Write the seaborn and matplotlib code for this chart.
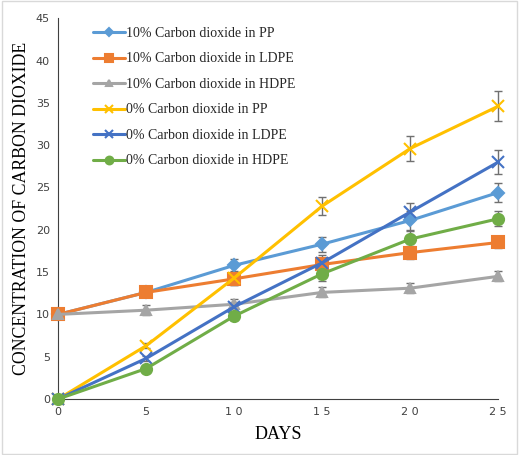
import matplotlib
matplotlib.use("Agg")
import matplotlib.pyplot as plt
import seaborn as sns
import pandas as pd

days = [0, 5, 10, 15, 20, 25]
series_names = [
    "10% Carbon dioxide in PP",
    "10% Carbon dioxide in LDPE",
    "10% Carbon dioxide in HDPE",
    "0% Carbon dioxide in PP",
    "0% Carbon dioxide in LDPE",
    "0% Carbon dioxide in HDPE",
]
pp10 = [10.0, 12.6, 15.8, 18.3, 21.1, 24.4]
ldpe10 = [10.0, 12.6, 14.2, 15.9, 17.3, 18.5]
hdpe10 = [10.0, 10.5, 11.2, 12.6, 13.1, 14.5]
pp0 = [0.0, 6.3, 14.3, 22.8, 29.6, 34.6]
ldpe0 = [0.0, 4.8, 10.9, 16.1, 22.1, 28.0]
hdpe0 = [0.0, 3.6, 9.8, 14.8, 18.9, 21.3]

err_pp10 = [0.0, 0.5, 0.8, 0.9, 1.1, 1.1]
err_ldpe10 = [0.0, 0.5, 0.7, 0.7, 0.8, 0.7]
err_hdpe10 = [0.0, 0.6, 0.6, 0.6, 0.6, 0.6]
err_pp0 = [0.0, 0.3, 0.8, 1.1, 1.5, 1.8]
err_ldpe0 = [0.0, 0.3, 0.6, 0.9, 1.1, 1.4]
err_hdpe0 = [0.0, 0.2, 0.5, 0.8, 1.0, 0.9]

values = [pp10, ldpe10, hdpe10, pp0, ldpe0, hdpe0]
errors = [err_pp10, err_ldpe10, err_hdpe10, err_pp0, err_ldpe0, err_hdpe0]
colors = ["#5B9BD5", "#ED7D31", "#A5A5A5", "#FFC000", "#4472C4", "#70AD47"]
markers = ["D", "s", "^", "x", "x", "o"]
msizes = [6, 8, 7, 8, 8, 8]

rows = []
for name, vals, errs in zip(series_names, values, errors):
    for d, v, e in zip(days, vals, errs):
        rows.append({"Days": d, "Value": v, "Err": e, "Series": name})
df = pd.DataFrame(rows)

sns.set_style("white")
fig = plt.figure(figsize=(5.19, 4.55), dpi=100)
ax = fig.add_axes([0.112, 0.123, 0.848, 0.837])

for name, col, mk, ms in zip(series_names, colors, markers, msizes):
    sub = df[df["Series"] == name]
    ax.errorbar(sub["Days"], sub["Value"], yerr=sub["Err"], fmt="none",
                ecolor="#707070", elinewidth=1, capsize=3, capthick=1, zorder=2,
                clip_on=False)
    sns.lineplot(data=sub, x="Days", y="Value", ax=ax, color=col, marker=mk,
                 markersize=ms, markeredgecolor=col, markeredgewidth=1.5,
                 linewidth=2.2, label=name, zorder=3, clip_on=False)

ax.set_xlim(0, 25)
ax.set_ylim(0, 45)
ax.set_xticks(days)
ax.set_xticklabels([" ".join(str(d)) for d in days])
ax.set_yticks(range(0, 46, 5))
ax.tick_params(axis="both", labelsize=8, length=0, colors="#404040", pad=6)
for s in ["top", "right"]:
    ax.spines[s].set_visible(False)
ax.spines["left"].set_color("#404040")
ax.spines["bottom"].set_color("#404040")

ax.set_xlabel("DAYS", fontfamily="Liberation Serif", fontsize=13, color="black", labelpad=6)
ax.set_ylabel("CONCENTRATION OF CARBON DIOXIDE", fontfamily="Liberation Serif",
              fontsize=12.8, color="black", labelpad=4)

leg = ax.legend(loc="upper left", bbox_to_anchor=(0.05, 1.01), frameon=False,
                prop={"family": "Liberation Serif", "size": 10},
                labelspacing=0.9, handlelength=2.3, handletextpad=0.1,
                markerscale=0.7)

fig.patches.append(plt.Rectangle((0.003, 0.003), 0.994, 0.994, transform=fig.transFigure,
                                 fill=False, edgecolor="#D9D9D9", linewidth=1))
fig.savefig("out.png", dpi=100)
